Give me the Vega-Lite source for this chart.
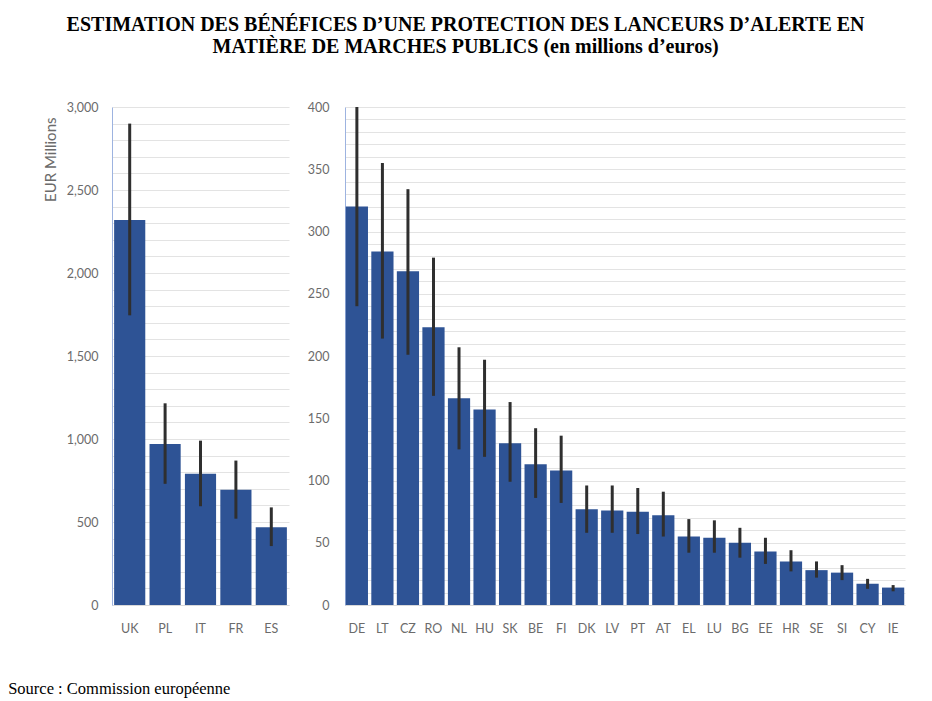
{
  "$schema": "https://vega.github.io/schema/vega-lite/v6.json",
  "background": "white",
  "padding": {"left": 8, "top": 15, "right": 10, "bottom": 4},
  "title": {
    "text": ["ESTIMATION DES BÉNÉFICES D’UNE PROTECTION DES LANCEURS D’ALERTE EN", "MATIÈRE DE MARCHES PUBLICS (en millions d’euros)"],
    "font": "Liberation Serif",
    "fontSize": 20,
    "fontWeight": "bold",
    "color": "black",
    "anchor": "middle",
    "lineHeight": 22,
    "offset": 44,
    "dx": 9
  },
  "config": {
    "view": {"stroke": null},
    "axis": {
      "labelFont": "Lato",
      "labelFontSize": 12.5,
      "labelColor": "#6b6b6b",
      "titleFont": "Lato",
      "titleColor": "#6b6b6b",
      "ticks": false
    }
  },
  "datasets": {
    "benefits": [
      {"panel": "big", "country": "UK", "value": 2320, "low": 1745, "high": 2900},
      {"panel": "big", "country": "PL", "value": 970, "low": 730, "high": 1215},
      {"panel": "big", "country": "IT", "value": 790, "low": 595, "high": 990},
      {"panel": "big", "country": "FR", "value": 695, "low": 520, "high": 870},
      {"panel": "big", "country": "ES", "value": 468, "low": 355, "high": 588},
      {"panel": "small", "country": "DE", "value": 320, "low": 240, "high": 400},
      {"panel": "small", "country": "LT", "value": 284, "low": 214, "high": 355},
      {"panel": "small", "country": "CZ", "value": 268, "low": 201, "high": 334},
      {"panel": "small", "country": "RO", "value": 223, "low": 168, "high": 279},
      {"panel": "small", "country": "NL", "value": 166, "low": 125, "high": 207},
      {"panel": "small", "country": "HU", "value": 157, "low": 119, "high": 197},
      {"panel": "small", "country": "SK", "value": 130, "low": 99, "high": 163},
      {"panel": "small", "country": "BE", "value": 113, "low": 86, "high": 142},
      {"panel": "small", "country": "FI", "value": 108, "low": 82, "high": 136},
      {"panel": "small", "country": "DK", "value": 77, "low": 58, "high": 96},
      {"panel": "small", "country": "LV", "value": 76, "low": 58, "high": 96},
      {"panel": "small", "country": "PT", "value": 75, "low": 57, "high": 94},
      {"panel": "small", "country": "AT", "value": 72, "low": 55, "high": 91},
      {"panel": "small", "country": "EL", "value": 55, "low": 42, "high": 69},
      {"panel": "small", "country": "LU", "value": 54, "low": 42, "high": 68},
      {"panel": "small", "country": "BG", "value": 50, "low": 38, "high": 62},
      {"panel": "small", "country": "EE", "value": 43, "low": 33, "high": 54},
      {"panel": "small", "country": "HR", "value": 35, "low": 27, "high": 44},
      {"panel": "small", "country": "SE", "value": 28, "low": 22, "high": 35},
      {"panel": "small", "country": "SI", "value": 26, "low": 20, "high": 32},
      {"panel": "small", "country": "CY", "value": 17, "low": 13, "high": 21},
      {"panel": "small", "country": "IE", "value": 14, "low": 11, "high": 16}
    ]
  },
  "vconcat": [
    {
      "title": {
        "text": "Source : Commission européenne",
        "orient": "bottom",
        "anchor": "start",
        "font": "Liberation Serif",
        "fontSize": 16.5,
        "fontWeight": "normal",
        "color": "black",
        "offset": 46,
        "dx": -35
      },
      "hconcat": [
        {
          "width": 177,
          "height": 498,
          "data": {"name": "benefits"},
          "transform": [{"filter": "datum.panel === 'big'"}],
          "encoding": {
            "x": {
              "field": "country",
              "type": "nominal",
              "sort": null,
              "scale": {"paddingInner": 0.12, "paddingOuter": 0.06},
              "axis": {"title": null, "labelAngle": 0, "labelPadding": 17, "domainColor": "#d9d9d9"}
            }
          },
          "layer": [
            {
              "mark": {"type": "bar", "color": "#2E5395"},
              "encoding": {
                "y": {
                  "field": "value",
                  "type": "quantitative",
                  "scale": {"domain": [0, 3000], "nice": false},
                  "axis": {
                    "title": "EUR Millions",
                    "titleFontSize": 15,
                    "titleFontWeight": "normal",
                    "titleAnchor": "end",
                    "titleY": 10,
                    "titlePadding": 8,
                    "values": [0,100,200,300,400,500,600,700,800,900,1000,1100,1200,1300,1400,1500,1600,1700,1800,1900,2000,2100,2200,2300,2400,2500,2600,2700,2800,2900,3000],
                    "labelExpr": "datum.value % 500 === 0 ? format(datum.value, ',') : ''",
                    "labelOverlap": false,
                    "labelPadding": 14,
                    "domainColor": "#9DB3E0",
                    "gridColor": "#e3e3e3"
                  }
                }
              }
            },
            {
              "mark": {"type": "rule", "color": "#2f2f2f", "strokeWidth": 3},
              "encoding": {
                "y": {
                  "field": "low",
                  "type": "quantitative",
                  "axis": {
                    "title": "EUR Millions",
                    "titleFontSize": 15,
                    "titleFontWeight": "normal",
                    "titleAnchor": "end",
                    "titleY": 10,
                    "titlePadding": 8,
                    "values": [0,100,200,300,400,500,600,700,800,900,1000,1100,1200,1300,1400,1500,1600,1700,1800,1900,2000,2100,2200,2300,2400,2500,2600,2700,2800,2900,3000],
                    "labelExpr": "datum.value % 500 === 0 ? format(datum.value, ',') : ''",
                    "labelOverlap": false,
                    "labelPadding": 14,
                    "domainColor": "#9DB3E0",
                    "gridColor": "#e3e3e3"
                  }
                },
                "y2": {"field": "high"}
              }
            }
          ]
        },
        {
          "width": 560,
          "height": 498,
          "data": {"name": "benefits"},
          "transform": [{"filter": "datum.panel === 'small'"}],
          "encoding": {
            "x": {
              "field": "country",
              "type": "nominal",
              "sort": null,
              "scale": {"paddingInner": 0.13, "paddingOuter": 0.03},
              "axis": {"title": null, "labelAngle": 0, "labelPadding": 17, "domainColor": "#d9d9d9"}
            }
          },
          "layer": [
            {
              "mark": {"type": "bar", "color": "#2E5395"},
              "encoding": {
                "y": {
                  "field": "value",
                  "type": "quantitative",
                  "scale": {"domain": [0, 400], "nice": false},
                  "axis": {
                    "title": null,
                    "values": [0,10,20,30,40,50,60,70,80,90,100,110,120,130,140,150,160,170,180,190,200,210,220,230,240,250,260,270,280,290,300,310,320,330,340,350,360,370,380,390,400],
                    "labelExpr": "datum.value % 50 === 0 ? format(datum.value, ',') : ''",
                    "labelOverlap": false,
                    "labelPadding": 16,
                    "domainColor": "#9DB3E0",
                    "gridColor": "#e3e3e3"
                  }
                }
              }
            },
            {
              "mark": {"type": "rule", "color": "#2f2f2f", "strokeWidth": 3},
              "encoding": {
                "y": {
                  "field": "low",
                  "type": "quantitative",
                  "axis": {
                    "title": null,
                    "values": [0,10,20,30,40,50,60,70,80,90,100,110,120,130,140,150,160,170,180,190,200,210,220,230,240,250,260,270,280,290,300,310,320,330,340,350,360,370,380,390,400],
                    "labelExpr": "datum.value % 50 === 0 ? format(datum.value, ',') : ''",
                    "labelOverlap": false,
                    "labelPadding": 16,
                    "domainColor": "#9DB3E0",
                    "gridColor": "#e3e3e3"
                  }
                },
                "y2": {"field": "high"}
              }
            }
          ]
        }
      ],
      "spacing": 18
    }
  ]
}
